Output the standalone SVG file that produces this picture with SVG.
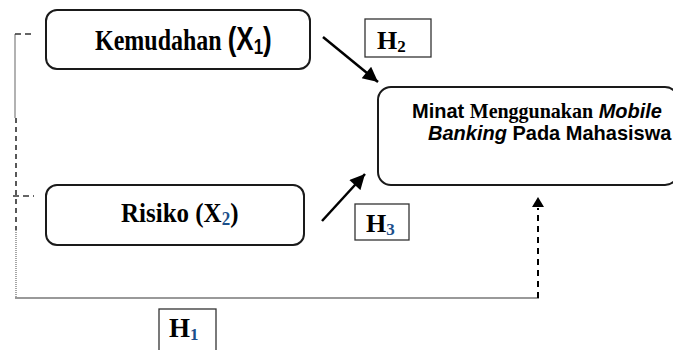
<svg xmlns="http://www.w3.org/2000/svg" width="673" height="350" viewBox="0 0 673 350">
<style>
.box{fill:#fff;stroke:#1a1a1a;stroke-width:2}
.hbox{fill:#fff;stroke:#333;stroke-width:1.3}
.tb{font-family:"Liberation Serif","Times New Roman",serif;font-weight:bold;fill:#000}
.sb{font-family:"Liberation Sans",Arial,sans-serif;font-weight:bold;fill:#000}
.s{font-family:"Liberation Sans",Arial,sans-serif;fill:#000}
.arr{stroke:#000;stroke-width:2.5;fill:none}
</style>
<defs>
<marker id="ah" viewBox="0 0 10 10" refX="10" refY="5" markerWidth="6.5" markerHeight="6" orient="auto" markerUnits="strokeWidth">
<path d="M0,0 L10,5 L0,10 z" fill="#000"/>
</marker>
</defs>
<g id="connectors">
<line x1="15" y1="34" x2="15" y2="118" stroke="#999" stroke-width="1.5"/>
<line x1="15" y1="34" x2="35" y2="34" stroke="#333" stroke-width="1.5" stroke-dasharray="6,4"/>
<line x1="16" y1="118" x2="16" y2="230" stroke="#222" stroke-width="1.5" stroke-dasharray="5,4"/>
<line x1="13" y1="196" x2="34" y2="196" stroke="#333" stroke-width="1.5" stroke-dasharray="6,4"/>
<line x1="16" y1="230" x2="16" y2="298" stroke="#777" stroke-width="1.3" stroke-dasharray="1,1"/>
<line x1="15" y1="298" x2="539" y2="298" stroke="#999" stroke-width="2"/>
<line x1="538" y1="298" x2="538" y2="208" stroke="#000" stroke-width="2" stroke-dasharray="6,5"/>
<path d="M538,197 L544,207 L532,207 z" fill="#000"/>
<line class="arr" x1="323" y1="37" x2="378" y2="82" marker-end="url(#ah)"/>
<line class="arr" x1="322" y1="221" x2="365" y2="174" marker-end="url(#ah)"/>
</g>
<g id="kemudahan">
<rect class="box" x="46" y="10" width="264" height="59" rx="11"/>
<text class="tb" transform="translate(95,50) scale(1,1.25)" font-size="24">Kemudahan <tspan class="s" font-size="26">(X</tspan><tspan class="s" font-size="17" dy="3" font-weight="bold" fill="#1b4f8a">1</tspan><tspan class="s" font-size="26" dy="-3">)</tspan></text>
</g>
<g id="risiko">
<rect class="box" x="46" y="185" width="258" height="60" rx="11"/>
<text class="tb" transform="translate(121,222) scale(1,1.12)" font-size="25">Risiko (X<tspan font-size="17" dy="3" fill="#1b4f8a">2</tspan><tspan dy="-3">)</tspan></text>
</g>
<g id="minat">
<rect class="box" x="378" y="87" width="300" height="98" rx="13"/>
<text class="sb" transform="translate(412,118) scale(1,1.05)" font-size="20">Minat <tspan class="tb">Menggunakan</tspan> <tspan font-style="italic">Mobile</tspan></text>
<text class="sb" transform="translate(428,140) scale(1,1.05)" font-size="20"><tspan font-style="italic">Banking</tspan> Pada Mahasiswa</text>
</g>
<g id="h2">
<rect class="hbox" x="365" y="19" width="66" height="38"/>
<text class="tb" x="377" y="49" font-size="26">H<tspan font-size="17" dy="3">2</tspan></text>
</g>
<g id="h3">
<rect class="hbox" x="355" y="204" width="54" height="36"/>
<text class="tb" x="366" y="232" font-size="26">H<tspan font-size="17" dy="3" fill="#1b4f8a">3</tspan></text>
</g>
<g id="h1">
<rect class="hbox" x="159" y="309" width="57" height="50"/>
<text class="tb" x="169" y="337" font-size="27">H<tspan font-size="17" dy="3" fill="#1b4f8a">1</tspan></text>
</g>
</svg>
